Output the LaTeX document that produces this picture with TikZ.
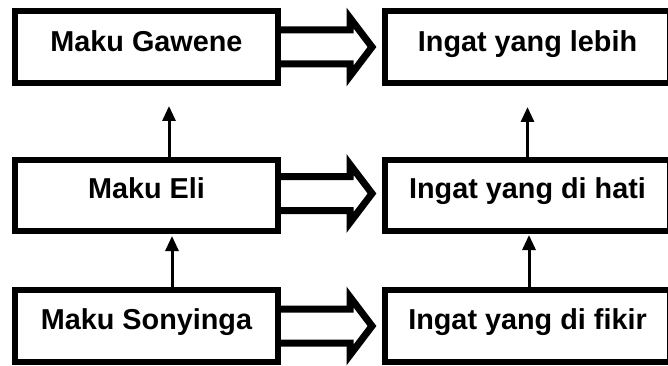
\documentclass[tikz,border=0pt]{standalone}
\usepackage{fontspec}
\setmainfont{Liberation Sans}
\usetikzlibrary{arrows.meta}
\begin{document}
\begin{tikzpicture}[x=1pt,y=-1pt,
  box/.style={draw, line width=6pt, fill=white, minimum height=72pt, inner sep=0pt,
    font=\fontsize{28.8}{30}\selectfont\bfseries, text height=22pt, text depth=16pt},
  leftbox/.style={box, minimum width=263pt},
  rightbox/.style={box, minimum width=285pt},
  uparrow/.style={line width=3pt, -{Triangle[width=13pt,length=15pt]}},
  blockarrow/.pic={\draw[line width=7pt, line join=miter]
    (0,-17) -- (72,-17) -- (72,-29) -- (94,0) -- (72,29) -- (72,17) -- (0,17);}
]
\useasboundingbox (0,0) rectangle (668,366);
\clip (0,0) rectangle (668,366);
\fill[white] (0,0) rectangle (668,366);

% left column
\node[leftbox, text depth=12pt] (L1) at (146.5,47) {Maku Gawene};
\node[leftbox, minimum height=71pt] (L2) at (146.5,195.5) {Maku Eli};
\node[leftbox] (L3) at (146.5,326) {Maku Sonyinga};

% right column (runs off the right edge)
\node[rightbox, text depth=12pt] (R1) at (527.5,47) {Ingat yang lebih};
\node[rightbox, minimum height=71pt] (R2) at (527.5,195.5) {Ingat yang di hati};
\node[rightbox] (R3) at (527.5,326) {Ingat yang di fikir};

% block arrows between the columns
\pic at ([xshift=-3pt]L1.east) {blockarrow};
\pic at ([xshift=-3pt,yshift=2pt]L2.east) {blockarrow};
\pic at ([xshift=-3pt]L3.east) {blockarrow};

% upward arrows
\draw[uparrow] ([xshift=22.5pt]L2.north) -- ([xshift=22.5pt,yshift=-20pt]L1.south);
\draw[uparrow] ([xshift=25.5pt]L3.north) -- ([xshift=25.5pt,yshift=-2pt]L2.south);
\draw[uparrow] (R2.north) -- ([yshift=-21pt]R1.south);
\draw[uparrow] ([xshift=1.5pt]R3.north) -- ([xshift=1.5pt,yshift=-1pt]R2.south);
\end{tikzpicture}
\end{document}
